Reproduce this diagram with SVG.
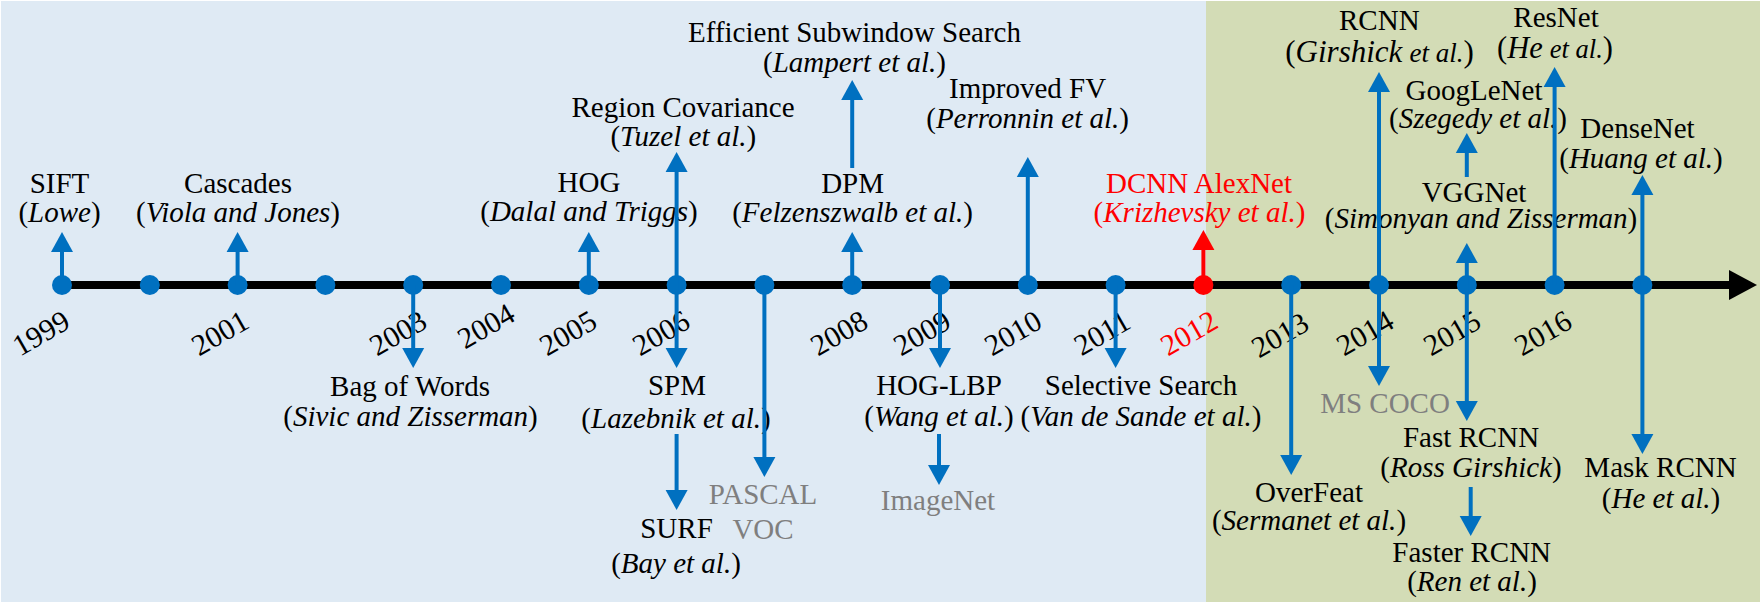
<svg xmlns="http://www.w3.org/2000/svg" width="1760" height="602" viewBox="0 0 1760 602">
<style>
.t{font-family:"Liberation Serif","Times New Roman",serif;font-size:29px;text-anchor:middle;fill:#000}
.y{font-size:30px}
.i{font-style:italic}
.s{font-size:27px}
.b{font-size:31px}
.g{fill:#7f7f7f}
.r{fill:#ff0000}
.dot{fill:#0070c0}
.dotr{fill:#ff0000}
.c line{stroke:#0070c0;stroke-width:4;marker-end:url(#ah)}
.c line.red{stroke:#ff0000;marker-end:url(#ahr)}
</style>
<defs>
<marker id="ah" markerUnits="userSpaceOnUse" markerWidth="20" markerHeight="22" refX="8" refY="11" orient="auto" overflow="visible">
<path d="M0,0 L20,11 L0,22 Z" fill="#0070c0"/>
</marker>
<marker id="ahr" markerUnits="userSpaceOnUse" markerWidth="20" markerHeight="22" refX="8" refY="11" orient="auto" overflow="visible">
<path d="M0,0 L20,11 L0,22 Z" fill="#ff0000"/>
</marker>
</defs>
<rect x="0" y="0" width="1760" height="602" fill="#ffffff"/>
<rect x="1" y="1" width="1206" height="601" fill="#dfeaf4"/>
<rect x="1206" y="1" width="554" height="601" fill="#d3dcb6"/>

<g id="axis">
<line x1="62" y1="285" x2="1732" y2="285" stroke="#000" stroke-width="8"/>
<polygon points="1729,270 1757,285 1729,300" fill="#000"/>
</g>

<g id="years" class="t y">
<text transform="translate(41,333) rotate(-30)" y="10">1999</text>
<text transform="translate(220,333) rotate(-30)" y="10">2001</text>
<text transform="translate(398,333) rotate(-30)" y="10">2003</text>
<text transform="translate(486,326) rotate(-30)" y="10">2004</text>
<text transform="translate(568,333) rotate(-30)" y="10">2005</text>
<text transform="translate(661,333) rotate(-30)" y="10">2006</text>
<text transform="translate(839,333) rotate(-30)" y="10">2008</text>
<text transform="translate(922,333) rotate(-30)" y="10">2009</text>
<text transform="translate(1013,333) rotate(-30)" y="10">2010</text>
<text transform="translate(1102,333) rotate(-30)" y="10">2011</text>
<text class="r" transform="translate(1189,333) rotate(-30)" y="10">2012</text>
<text transform="translate(1280,335) rotate(-30)" y="10">2013</text>
<text transform="translate(1365,333) rotate(-30)" y="10">2014</text>
<text transform="translate(1452,333) rotate(-30)" y="10">2015</text>
<text transform="translate(1543,333) rotate(-30)" y="10">2016</text>
</g>

<g id="n1999"><circle class="dot" cx="62" cy="285" r="10"/>
<text class="t" x="59.5" y="193">SIFT</text><text class="t" x="59.5" y="222">(<tspan class="i">Lowe</tspan>)</text></g>
<g id="n2000"><circle class="dot" cx="149.8" cy="285" r="10"/></g>
<g id="n2001"><circle class="dot" cx="237.6" cy="285" r="10"/>
<text class="t" x="238" y="193">Cascades</text><text class="t" x="238" y="222">(<tspan class="i">Viola and Jones</tspan>)</text></g>
<g id="n2002"><circle class="dot" cx="325.4" cy="285" r="10"/></g>
<g id="n2003"><circle class="dot" cx="413.2" cy="285" r="10"/>
<text class="t" x="410" y="396">Bag of Words</text><text class="t" x="410.5" y="426">(<tspan class="i">Sivic and Zisserman</tspan>)</text></g>
<g id="n2004"><circle class="dot" cx="501" cy="285" r="10"/></g>
<g id="n2005"><circle class="dot" cx="588.8" cy="285" r="10"/>
<text class="t" x="589" y="192">HOG</text><text class="t" x="589" y="220.5">(<tspan class="i">Dalal and Triggs</tspan>)</text></g>
<g id="n2006"><circle class="dot" cx="676.6" cy="285" r="10"/>
<text class="t" x="683" y="116.7">Region Covariance</text><text class="t" x="683.3" y="145.5">(<tspan class="i">Tuzel et al.</tspan>)</text>
<text class="t" x="677" y="395">SPM</text><text class="t" x="676" y="428">(<tspan class="i">Lazebnik et al.</tspan>)</text>
<text class="t" x="676.5" y="538.3">SURF</text><text class="t" x="676" y="573.3">(<tspan class="i">Bay et al.</tspan>)</text></g>
<g id="n2007"><circle class="dot" cx="764.4" cy="285" r="10"/>
<text class="t g" x="763" y="504">PASCAL</text><text class="t g" x="763" y="539">VOC</text></g>
<g id="n2008"><circle class="dot" cx="852.2" cy="285" r="10"/>
<text class="t" x="852.6" y="192.7">DPM</text><text class="t" x="852.6" y="222">(<tspan class="i">Felzenszwalb et al.</tspan>)</text>
<text class="t" x="854.5" y="42.3">Efficient Subwindow Search</text><text class="t" x="854.5" y="71.7">(<tspan class="i">Lampert et al.</tspan>)</text></g>
<g id="n2009"><circle class="dot" cx="940" cy="285" r="10"/>
<text class="t" x="939" y="395">HOG-LBP</text><text class="t" x="939" y="425.7">(<tspan class="i">Wang et al.</tspan>)</text>
<text class="t g" x="938" y="510">ImageNet</text></g>
<g id="n2010"><circle class="dot" cx="1027.8" cy="285" r="10"/>
<text class="t" x="1027.6" y="97.7">Improved FV</text><text class="t" x="1027.6" y="128">(<tspan class="i">Perronnin et al.</tspan>)</text></g>
<g id="n2011"><circle class="dot" cx="1115.6" cy="285" r="10"/>
<text class="t" x="1141" y="395">Selective Search</text><text class="t" x="1141" y="425.7">(<tspan class="i">Van de Sande et al.</tspan>)</text></g>
<g id="n2012"><circle class="dotr" cx="1203.4" cy="285" r="10"/>
<text class="t r" x="1199" y="192.7">DCNN AlexNet</text><text class="t r" x="1199.5" y="222">(<tspan class="i">Krizhevsky et al.</tspan>)</text></g>
<g id="n2013"><circle class="dot" cx="1291.2" cy="285" r="10"/>
<text class="t" x="1309" y="501.7">OverFeat</text><text class="t" x="1309" y="530">(<tspan class="i">Sermanet et al.</tspan>)</text></g>
<g id="n2014"><circle class="dot" cx="1379" cy="285" r="10"/>
<text class="t" x="1379.3" y="30">RCNN</text><text class="t" x="1379.6" y="61.7"><tspan class="b">(</tspan><tspan class="i b">Girshick</tspan> <tspan class="i s">et al.</tspan><tspan class="b">)</tspan></text>
<text class="t g" x="1385" y="413.3">MS COCO</text></g>
<g id="n2015"><circle class="dot" cx="1466.8" cy="285" r="10"/>
<text class="t" x="1474" y="202.3">VGGNet</text><text class="t" x="1481" y="228.3">(<tspan class="i">Simonyan and Zisserman</tspan>)</text>
<text class="t" x="1474" y="100">GoogLeNet</text><text class="t" x="1478" y="128.3">(<tspan class="i">Szegedy et al.</tspan>)</text>
<text class="t" x="1471" y="446.7">Fast RCNN</text><text class="t" x="1471" y="476.7">(<tspan class="i">Ross Girshick</tspan>)</text>
<text class="t" x="1471.7" y="561.7">Faster RCNN</text><text class="t" x="1472" y="590.7">(<tspan class="i">Ren et al.</tspan>)</text></g>
<g id="n2016"><circle class="dot" cx="1554.6" cy="285" r="10"/>
<text class="t" x="1556" y="26.7">ResNet</text><text class="t" x="1555" y="58.3" textLength="116" lengthAdjust="spacingAndGlyphs"><tspan class="b">(</tspan><tspan class="i b">He</tspan> <tspan class="i s">et al.</tspan><tspan class="b">)</tspan></text></g>
<g id="n2017"><circle class="dot" cx="1642.4" cy="285" r="10"/>
<text class="t" x="1637.5" y="138.3">DenseNet</text><text class="t" x="1641" y="168.3">(<tspan class="i">Huang et al.</tspan>)</text>
<text class="t" x="1660.5" y="476.7">Mask RCNN</text><text class="t" x="1661" y="508.3">(<tspan class="i">He et al.</tspan>)</text></g>

<g id="connectors" class="c">
<line x1="62" y1="285" x2="62" y2="244"/>
<line x1="237.6" y1="285" x2="237.6" y2="244"/>
<line x1="588.8" y1="285" x2="588.8" y2="244"/>
<line x1="676.6" y1="285" x2="676.6" y2="164"/>
<line x1="852.2" y1="285" x2="852.2" y2="244"/>
<line x1="852.2" y1="168" x2="852.2" y2="92"/>
<line x1="1027.8" y1="285" x2="1027.8" y2="169"/>
<line class="red" x1="1203.4" y1="285" x2="1203.4" y2="242"/>
<line x1="1379" y1="285" x2="1379" y2="84"/>
<line x1="1466.8" y1="285" x2="1466.8" y2="255"/>
<line x1="1466.8" y1="177" x2="1466.8" y2="145"/>
<line x1="1554.6" y1="285" x2="1554.6" y2="79"/>
<line x1="1642.4" y1="285" x2="1642.4" y2="187"/>
<line x1="413.2" y1="285" x2="413.2" y2="356"/>
<line x1="676.6" y1="285" x2="676.6" y2="356"/>
<line x1="676.6" y1="434" x2="676.6" y2="498"/>
<line x1="764.4" y1="285" x2="764.4" y2="465"/>
<line x1="940" y1="285" x2="940" y2="356"/>
<line x1="939" y1="434" x2="939" y2="473"/>
<line x1="1115.6" y1="285" x2="1115.6" y2="356"/>
<line x1="1291.2" y1="285" x2="1291.2" y2="463"/>
<line x1="1379" y1="285" x2="1379" y2="374"/>
<line x1="1466.8" y1="285" x2="1466.8" y2="409"/>
<line x1="1470.7" y1="487" x2="1470.7" y2="524"/>
<line x1="1642.4" y1="285" x2="1642.4" y2="442"/>
</g>
</svg>
